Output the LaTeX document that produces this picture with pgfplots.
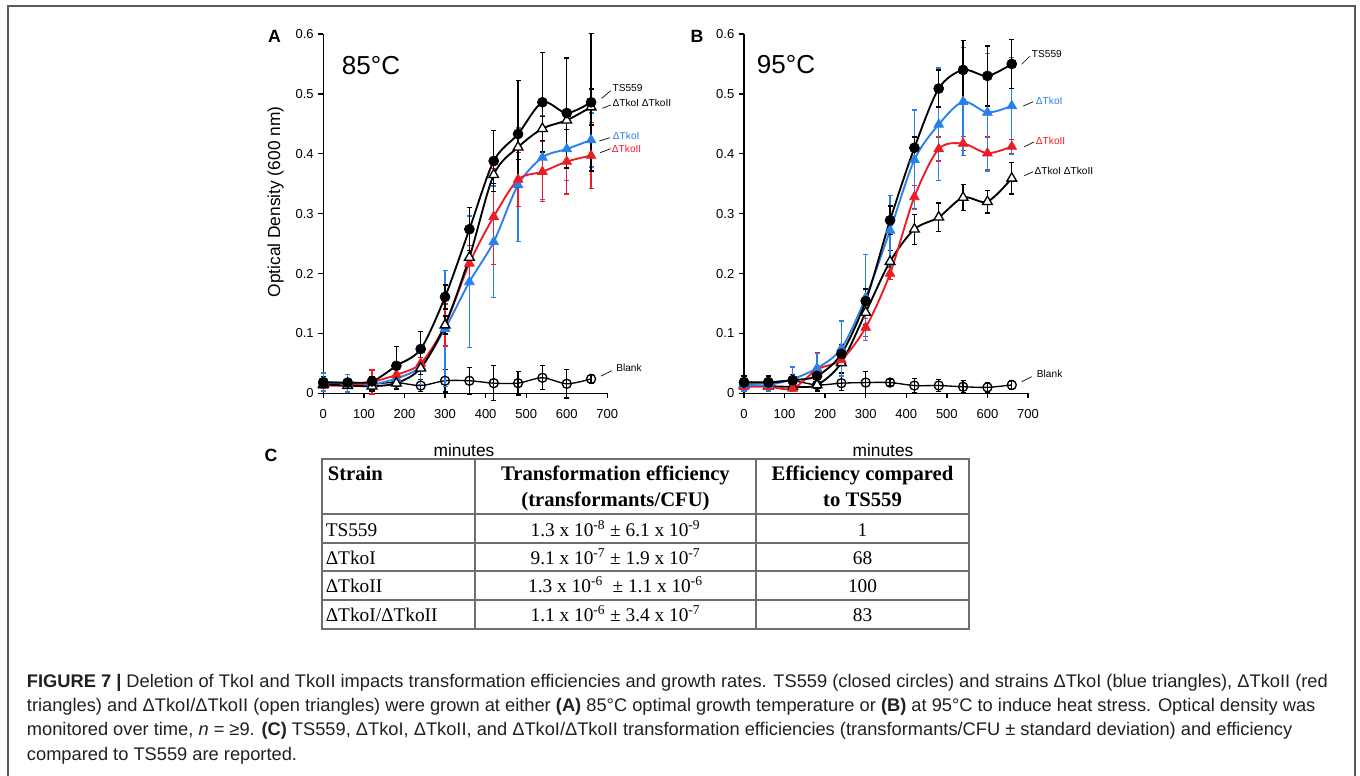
\documentclass[border=0pt]{standalone}
\usepackage{pgfplots}
\usepackage{pgfplotstable}
\pgfplotsset{compat=1.18}
\usepackage{fontspec}
\setmainfont{Liberation Sans}
\newfontfamily\tabfont{Liberation Serif}

\definecolor{koIblue}{RGB}{40,128,235}
\definecolor{koIIred}{RGB}{237,28,36}
\definecolor{framegray}{RGB}{90,90,90}
\definecolor{rulegray}{RGB}{110,110,110}
\definecolor{captext}{RGB}{35,31,32}

\newcommand{\fsz}[1]{\fontsize{#1}{#1}\selectfont}

% 85 C growth curves: mean OD600 and sd
\pgfplotstableread{
t   ts    tse    ko1   ko1e   ko2   ko2e   dko   dkoe   bl    ble
0   0.018 0.010  0.019 0.015  0.013 0.005  0.015 0.005  0.019 0.005
60  0.018 0.006  0.017 0.015  0.013 0.005  0.013 0.005  0.017 0.005
120 0.020 0.008  0.015 0.010  0.019 0.020  0.012 0.008  0.016 0.010
180 0.046 0.032  0.025 0.010  0.031 0.020  0.017 0.010  0.018 0.010
240 0.074 0.029  0.045 0.030  0.050 0.010  0.042 0.010  0.013 0.010
300 0.161 0.020  0.108 0.097  0.114 0.035  0.114 0.015  0.021 0.019
360 0.274 0.036  0.186 0.110  0.217 0.030  0.227 0.012  0.021 0.022
420 0.388 0.051  0.253 0.093  0.295 0.080  0.365 0.015  0.017 0.029
480 0.433 0.089  0.348 0.095  0.357 0.045  0.411 0.020  0.017 0.020
540 0.486 0.083  0.394 0.070  0.370 0.050  0.442 0.020  0.026 0.020
600 0.468 0.092  0.408 0.053  0.387 0.054  0.456 0.015  0.016 0.024
660 0.486 0.115  0.423 0.045  0.397 0.055  0.478 0.030  0.024 0.008
}\dataA

% 95 C growth curves
\pgfplotstableread{
t   ts    tse    ko1   ko1e   ko2   ko2e   dko   dkoe   bl    ble
0   0.018 0.005  0.014 0.010  0.011 0.005  0.014 0.005  0.019 0.010
60  0.018 0.005  0.014 0.010  0.011 0.005  0.012 0.005  0.019 0.010
120 0.022 0.010  0.024 0.020  0.008 0.005  0.011 0.005  0.021 0.010
180 0.029 0.015  0.042 0.025  0.040 0.028  0.014 0.010  0.014 0.010
240 0.066 0.015  0.075 0.046  0.056 0.010  0.051 0.017  0.017 0.012
300 0.154 0.020  0.160 0.072  0.110 0.015  0.135 0.020  0.018 0.018
360 0.289 0.024  0.272 0.058  0.200 0.010  0.220 0.019  0.018 0.005
420 0.410 0.018  0.390 0.083  0.328 0.019  0.274 0.025  0.013 0.012
480 0.509 0.031  0.449 0.094  0.408 0.020  0.294 0.024  0.013 0.010
540 0.540 0.049  0.487 0.090  0.417 0.012  0.327 0.022  0.011 0.010
600 0.530 0.050  0.469 0.098  0.401 0.027  0.320 0.019  0.010 0.008
660 0.550 0.041  0.480 0.081  0.412 0.012  0.359 0.026  0.014 0.008
}\dataB

\pgfplotsset{
  odaxis/.style={
    scale only axis, width=213pt, height=269.5pt,
    anchor=south west,
    xmin=0, xmax=700, ymin=0, ymax=0.6,
    axis x line*=bottom, axis y line*=left,
    axis line style={line width=1.1pt, black},
    xtick={0,100,...,700},
    ytick={0,0.1,0.2,0.3,0.4,0.5,0.6},
    tick align=outside, major tick length=3.75pt,
    every tick/.style={black, line width=1pt},
    tick label style={font=\fsz{9.75pt}},
    xticklabel style={yshift=-5pt},
    /pgf/number format/assume math mode=true,
    yticklabel style={/pgf/number format/fixed, /pgf/number format/precision=1},
    clip=false,
    every axis plot/.append style={smooth, line width=1.4pt},
    error bars/y dir=both, error bars/y explicit,
    error bars/error mark=-,
  },
  sts/.style={black, mark=*, mark size=3.75pt, mark options={fill=black, line width=0.5pt},
    error bars/error bar style={black, line width=1pt},
    error bars/error mark options={rotate=90, black, mark size=1.9pt, line width=1pt}},
  sko1/.style={koIblue, mark=triangle*, mark size=4.2pt, mark options={fill=koIblue, line width=0.5pt},
    error bars/error bar style={koIblue, line width=1pt},
    error bars/error mark options={rotate=90, koIblue, mark size=1.9pt, line width=1pt}},
  sko2/.style={koIIred, mark=triangle*, mark size=4.2pt, mark options={fill=koIIred, line width=0.5pt},
    error bars/error bar style={koIIred, line width=1pt},
    error bars/error mark options={rotate=90, koIIred, mark size=1.9pt, line width=1pt}},
  sdko/.style={black, mark=triangle*, mark size=4.2pt, mark options={fill=white, draw=black, line width=1pt},
    error bars/error bar style={black, line width=1pt},
    error bars/error mark options={rotate=90, black, mark size=1.9pt, line width=1pt}},
  sbl/.style={black, line width=1pt, mark=o, mark size=3.4pt, mark options={line width=1pt},
    error bars/error bar style={black, line width=1pt},
    error bars/error mark options={rotate=90, black, mark size=1.9pt, line width=1pt}},
}

\begin{document}
\begin{tikzpicture}
\begin{scope}[x=0.75pt, y=-0.75pt]
\path[use as bounding box] (0,0) rectangle (1360,775);
\draw[framegray, line width=1.3pt] (8,780) -- (8,6.3) -- (1355,6.3) -- (1355,780);

% panel letters and temperatures
\node[font=\fsz{13.3pt}\bfseries, anchor=center] at (274.5,36) {A};
\node[font=\fsz{13.3pt}\bfseries, anchor=center] at (697,36) {B};
\node[font=\fsz{13.3pt}\bfseries, anchor=center] at (271,455) {C};
\node[font=\fsz{19.5pt}, anchor=center] at (371,66) {85°C};
\node[font=\fsz{19.5pt}, anchor=center] at (786,65) {95°C};

% axis titles
\node[font=\fsz{13pt}, rotate=90, anchor=center] at (275.7,202) {Optical Density (600 nm)};
\node[font=\fsz{13pt}, anchor=center] at (464,450) {minutes};
\node[font=\fsz{13pt}, anchor=center] at (883,450) {minutes};

% curve labels, panel A
\begin{scope}[font=\fsz{7.6pt}, every node/.style={anchor=west, inner sep=0pt}]
\draw[line width=0.5pt] (601.7,98.3) -- (610.7,90.7);
\node at (612.3,88.3) {TS559};
\draw[line width=0.5pt] (602.3,108.3) -- (610.7,105);
\node at (612.3,103.3) {ΔTkoI ΔTkoII};
\draw[line width=0.5pt] (599.3,141) -- (610,137.7);
\node[text=koIblue] at (612.7,136) {ΔTkoI};
\draw[line width=0.5pt] (600,152.7) -- (610.7,148.7);
\node[text=koIIred] at (611.7,148.7) {ΔTkoII};
\draw[line width=0.5pt] (601,376) -- (611.7,370.7);
\node at (616,368.3) {Blank};
% panel B
\draw[line width=0.5pt] (1021.7,64.3) -- (1030,56);
\node at (1031.7,54) {TS559};
\draw[line width=0.5pt] (1023.3,106) -- (1033.3,101.7);
\node[text=koIblue] at (1035.7,101) {ΔTkoI};
\draw[line width=0.5pt] (1024.3,146.7) -- (1034,142);
\node[text=koIIred] at (1035.7,140.7) {ΔTkoII};
\draw[line width=0.5pt] (1024.3,175.7) -- (1033.3,171.7);
\node at (1034.3,171) {ΔTkoI ΔTkoII};
\draw[line width=0.5pt] (1021.7,381.7) -- (1031.7,376.7);
\node at (1036.7,374.3) {Blank};
\end{scope}

% table C
\draw[rulegray, line width=1pt] (322,459) rectangle (969,629);
\draw[rulegray, line width=1pt] (475,459) -- (475,629) (756,459) -- (756,629);
\foreach \yy in {514,543,571,600} \draw[rulegray, line width=1pt] (322,\yy) -- (969,\yy);
\begin{scope}[every node/.style={inner sep=0pt}]
\node[font=\tabfont\fsz{15.5pt}\bfseries, anchor=base west] at (327.5,480) {Strain};
\node[font=\tabfont\fsz{15.5pt}\bfseries, anchor=base] at (615.5,480) {Transformation efficiency};
\node[font=\tabfont\fsz{15.5pt}\bfseries, anchor=base] at (615.5,506) {(transformants/CFU)};
\node[font=\tabfont\fsz{15.5pt}\bfseries, anchor=base] at (862.5,480) {Efficiency compared};
\node[font=\tabfont\fsz{15.5pt}\bfseries, anchor=base] at (862.5,506) {to TS559};
\begin{scope}[every node/.append style={font=\tabfont\fsz{14.5pt}}]
\node[anchor=base west] at (325.5,536) {TS559};
\node[anchor=base] at (615.5,536) {1.3 x 10\textsuperscript{-8} ± 6.1 x 10\textsuperscript{-9}};
\node[anchor=base] at (862.5,536) {1};
\node[anchor=base west] at (325.5,564.5) {ΔTkoI};
\node[anchor=base] at (615.5,564.5) {9.1 x 10\textsuperscript{-7} ± 1.9 x 10\textsuperscript{-7}};
\node[anchor=base] at (862.5,564.5) {68};
\node[anchor=base west] at (325.5,592.5) {ΔTkoII};
\node[anchor=base] at (615.5,592.5) {1.3 x 10\textsuperscript{-6} \ ± 1.1 x 10\textsuperscript{-6}};
\node[anchor=base] at (862.5,592.5) {100};
\node[anchor=base west] at (325.5,621) {ΔTkoI/ΔTkoII};
\node[anchor=base] at (615.5,621) {1.1 x 10\textsuperscript{-6} ± 3.4 x 10\textsuperscript{-7}};
\node[anchor=base] at (862.5,621) {83};
\end{scope}
\end{scope}

% caption
\begin{scope}[every node/.style={inner sep=0pt, anchor=base west, font=\fsz{13.7pt}, text=captext}]
\node at (26.7,687) {\textbf{FIGURE 7 |} Deletion of TkoI and TkoII impacts transformation efficiencies and growth rates. TS559 (closed circles) and strains ΔTkoI (blue triangles), ΔTkoII (red};
\node at (26.7,711.3) {triangles) and ΔTkoI/ΔTkoII (open triangles) were grown at either \textbf{(A)} 85°C optimal growth temperature or \textbf{(B)} at 95°C to induce heat stress. Optical density was};
\node at (26.7,735.6) {monitored over time, \textit{n} = ≥9. \textbf{(C)} TS559, ΔTkoI, ΔTkoII, and ΔTkoI/ΔTkoII transformation efficiencies (transformants/CFU ± standard deviation) and efficiency};
\node at (26.7,760) {compared to TS559 are reported.};
\end{scope}
\end{scope}

% panel A: 85 C
\begin{axis}[odaxis, at={(242.5pt,-295pt)}]
\addplot[sbl]  table[x=t, y=bl,  y error=ble]  {\dataA};
\addplot[sko1] table[x=t, y=ko1, y error=ko1e] {\dataA};
\addplot[sko2] table[x=t, y=ko2, y error=ko2e] {\dataA};
\addplot[sdko] table[x=t, y=dko, y error=dkoe] {\dataA};
\addplot[sts]  table[x=t, y=ts,  y error=tse]  {\dataA};
\end{axis}

% panel B: 95 C
\begin{axis}[odaxis, at={(558pt,-295pt)}]
\addplot[sbl]  table[x=t, y=bl,  y error=ble]  {\dataB};
\addplot[sdko] table[x=t, y=dko, y error=dkoe] {\dataB};
\addplot[sko2] table[x=t, y=ko2, y error=ko2e] {\dataB};
\addplot[sko1] table[x=t, y=ko1, y error=ko1e] {\dataB};
\addplot[sts]  table[x=t, y=ts,  y error=tse]  {\dataB};
\end{axis}
\end{tikzpicture}
\end{document}
